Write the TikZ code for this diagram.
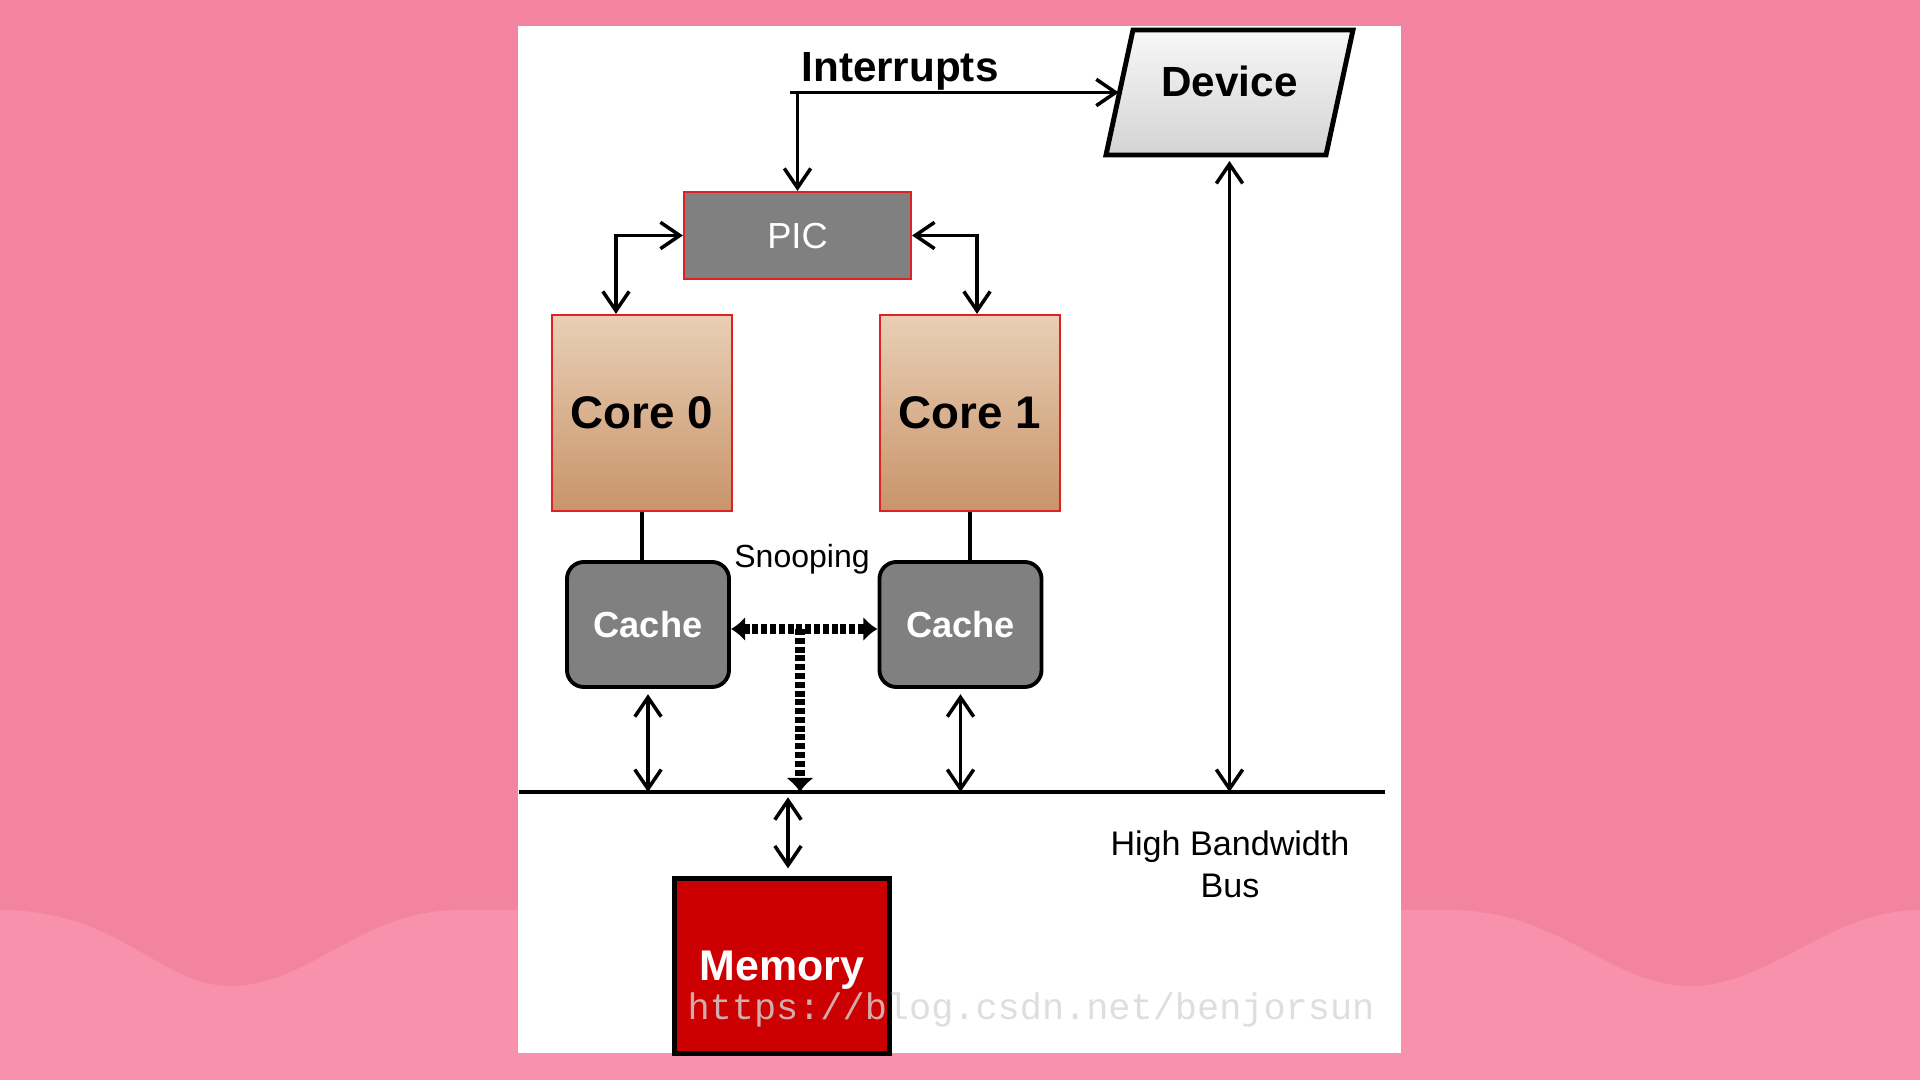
\documentclass[tikz,border=0pt]{standalone}
\usepackage{fontspec}
\setmainfont{Liberation Sans}
\newfontfamily\wmfont{Liberation Mono}
\usetikzlibrary{arrows.meta}
\definecolor{bgtop}{RGB}{243,132,159}
\definecolor{bglow}{RGB}{248,145,171}
\definecolor{boxgray}{RGB}{128,128,128}
\definecolor{boxred}{RGB}{222,34,34}
\definecolor{coretop}{RGB}{233,207,181}
\definecolor{corebot}{RGB}{200,148,106}
\definecolor{memred}{RGB}{204,0,0}
\definecolor{devlight}{RGB}{247,247,247}
\definecolor{devdark}{RGB}{212,212,212}
\begin{document}
\begin{tikzpicture}[x=0.01cm,y=-0.01cm,
    >={Straight Barb[length=5.5pt,width=7.5pt]},
    every node/.style={inner sep=0pt,text depth=0pt},
    conn/.style={line width=1pt},
    snoop/.style={line width=2.6pt,dash pattern=on 1.7pt off 0.8pt},
    picbox/.style={draw=boxred,line width=0.6pt,fill=boxgray,text=white,
        minimum width=2.27cm,minimum height=0.87cm,font=\fontsize{10.3}{12}\selectfont},
    core/.style={draw=boxred,line width=0.6pt,top color=coretop,bottom color=corebot,
        minimum width=1.8cm,minimum height=1.96cm,font=\fontsize{13}{15}\selectfont\bfseries},
    cache/.style={draw,line width=1.1pt,fill=boxgray,rounded corners=0.17cm,text=white,
        minimum width=1.62cm,minimum height=1.25cm,font=\fontsize{10.3}{12}\selectfont\bfseries},
    mem/.style={draw,line width=1.4pt,fill=memred,text=white,
        minimum width=2.14cm,minimum height=1.74cm,font=\fontsize{12.2}{14}\selectfont\bfseries},
    dev/.style={minimum width=2.2cm,minimum height=1.25cm,text height=0.3cm,text depth=0.21cm,
        font=\fontsize{12}{14}\selectfont\bfseries}]
    \useasboundingbox (0,0) rectangle (1920,1080);
    \fill[bgtop] (0,0) rectangle (1920,1080);
    \fill[bglow] (0,910) .. controls (120,910) and (160,986) .. (230,986)
        .. controls (310,986) and (360,910) .. (460,910) -- (1449,910)
        .. controls (1560,910) and (1610,986) .. (1690,986)
        .. controls (1770,986) and (1830,910) .. (1920,910) -- (1920,1080) -- (0,1080) -- cycle;
    \fill[white] (518,26) rectangle (1401,1053);

    \draw[line width=1.4pt,top color=devlight,bottom color=devdark]
        (1133,30) -- (1353,30) -- (1326,155) -- (1106,155) -- cycle;

    \node[picbox] (PIC) at (797.5,235.5) {PIC};
    \node[core] (C0) at (642,413) {Core 0};
    \node[core] (C1) at (970,413) {Core 1};
    \node[cache] (K0) at (648,624.5) {Cache};
    \node[cache] (K1) at (960.5,624.5) {Cache};
    \node[mem] (M) at (782,966) {Memory};
    \node[dev] (D) at (1229.5,92.5) {Device};

    \node[anchor=base,font=\fontsize{12}{14}\selectfont\bfseries] (IL) at (900,82) {Interrupts};
    \node[anchor=base,font=\fontsize{9.1}{11}\selectfont] (SL) at (802,568) {Snooping};
    \node[anchor=north,align=center,font=\fontsize{9.7}{11.95}\selectfont] (BW) at (1230,830) {High Bandwidth\\Bus};
    \node[anchor=base,text=black!16,opacity=0.8,font=\fontsize{10.5}{12}\wmfont] (WM) at (1031,1020) {https://blog.csdn.net/benjorsun};

    \coordinate (I) at (790,92.5);
    \coordinate (S) at (800,629);
    \coordinate (BL) at (519,792);
    \coordinate (BR) at (1385,792);

    \draw[conn] (BL) -- (BR);
    \draw[conn,->] (I) -- (D.west);
    \draw[conn,->] (PIC.north |- I) -- (PIC.north);
    \draw[conn,<->] (PIC.west) -| ([xshift=-0.26cm]C0.north);
    \draw[conn,<->] (PIC.east) -| ([xshift=0.07cm]C1.north);
    \draw[conn] (C0.south) -- (C0.south |- K0.north);
    \draw[conn] (C1.south) -- (C1.south |- K1.north);
    \draw[conn,<->,shorten <=1.5pt] (K0.south) -- (K0.south |- BL);
    \draw[conn,<->,shorten <=1.5pt] (K1.south) -- (K1.south |- BL);
    \draw[conn,<->,shorten <=1.5pt] (D.south) -- (D.south |- BL);
    \draw[conn,<->,shorten <=1.5pt,shorten >=2.3pt] ([xshift=0.06cm]M.north |- BL) -- ([xshift=0.06cm]M.north);
    \draw[snoop,{Latex[length=4pt,width=7pt]}-{Latex[length=4pt,width=7pt]}] (K0.east |- S) -- (K1.west |- S);
    \draw[snoop,-{Latex[length=4pt,width=8pt]}] (S) -- (S |- BL);
\end{tikzpicture}
\end{document}
